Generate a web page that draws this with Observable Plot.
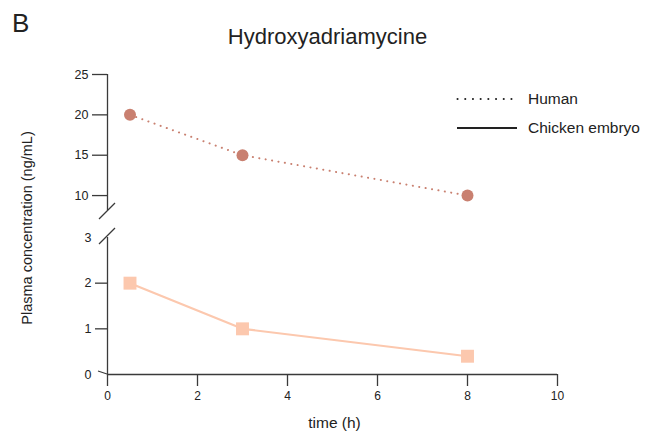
<!DOCTYPE html>
<html>
<head>
<meta charset="utf-8">
<script src="https://cdn.jsdelivr.net/npm/d3@7"></script>
<script src="https://cdn.jsdelivr.net/npm/@observablehq/plot@0.6"></script>
<style>
  body { margin: 0; background: #fff; font-family: "Liberation Sans", Arial, sans-serif; }
  #wrap { position: relative; width: 661px; height: 439px; overflow: hidden; }
  #wrap svg.plot { position: absolute; left: 0; top: 0; }
  .panel { position: absolute; left: 12px; top: 8px; font-size: 26px; line-height: 30px; color: #222; }
  .title { position: absolute; left: 0; width: 655px; top: 24px; text-align: center; font-size: 22px; line-height: 25px; color: #222; }
  .legend { position: absolute; left: 456px; top: 85px; font-size: 15.5px; color: #222; }
  .legend div { display: flex; align-items: center; height: 28.5px; }
  .legend svg { margin-right: 10px; }
</style>
</head>
<body>
<div id="wrap">
  <div class="panel">B</div>
  <div class="title">Hydroxyadriamycine</div>
  <div class="legend">
    <div><svg width="62" height="6"><line x1="1.5" y1="3" x2="56" y2="3" stroke="#222" stroke-width="2" stroke-dasharray="0.1,7.6" stroke-linecap="round"/></svg>Human</div>
    <div><svg width="62" height="6"><line x1="1" y1="3" x2="61" y2="3" stroke="#222" stroke-width="2"/></svg>Chicken embryo</div>
  </div>
</div>
<script>
// Sampling times (h) and plasma concentrations (ng/mL)
const times = [0.5, 3, 8];
const human = [20, 15, 10];
const chickenEmbryo = [2, 1, 0.4];

// Axis ticks
const xTicks = [0, 2, 4, 6, 8, 10];
const lowTicks = [1, 2];
const lowLabels = [0, 1, 2, 3];
const highTicks = [10, 15, 20, 25];

const humanData = times.map((t, i) => ({time: t, value: human[i]}));
const chickData = times.map((t, i) => ({time: t, value: chickenEmbryo[i]}));

const axisColor = "#3a3a3a";
const humanColor = "#c98070";
const chickColor = "#fcc8ae";
const fmt = d => `${d}`;

// Broken y axis: 0–3 in the lower panel, ~8–25 in the upper one
const breakLow = 3, breakHigh = 8.15;

const common = {
  width: 661,
  height: 439,
  marginLeft: 107,
  marginRight: 104,
  style: {fontFamily: "'Liberation Sans', Arial, sans-serif", fontSize: "12px", color: "#222", background: "transparent", overflow: "visible"}
};

// Upper panel: human plasma levels
const upper = Plot.plot({
  ...common,
  marginTop: 74,
  marginBottom: 229,
  x: {domain: [0, 10], axis: null},
  y: {domain: [breakHigh, 25]},
  marks: [
    Plot.ruleX([0], {y1: breakHigh, y2: 25, stroke: axisColor, strokeWidth: 1.3}),
    Plot.axisY({ticks: highTicks, tickSize: 15, tickPadding: 4, tickFormat: fmt, stroke: axisColor, strokeWidth: 1.3, label: null, fontSize: 12.5}),
    Plot.line(humanData, {x: "time", y: "value", stroke: humanColor, strokeWidth: 2, strokeDasharray: "0.1,6.4", strokeLinecap: "round"}),
    Plot.dot(humanData, {x: "time", y: "value", r: 6, fill: humanColor})
  ]
});

// Lower panel: chicken embryo plasma levels, x axis and axis titles
const lower = Plot.plot({
  ...common,
  marginTop: 237,
  marginBottom: 65,
  x: {domain: [0, 10]},
  y: {domain: [0, breakLow]},
  marks: [
    Plot.ruleX([0], {y1: 0, y2: breakLow, stroke: axisColor, strokeWidth: 1.3}),
    Plot.ruleY([0], {x1: 0, x2: 10, stroke: axisColor, strokeWidth: 1.3}),
    Plot.axisY({ticks: lowTicks, tickSize: 12, tickFormat: () => "", stroke: axisColor, strokeWidth: 1.3, label: null}),
    Plot.axisY({ticks: lowLabels, tickSize: 0, tickPadding: 16, tickFormat: fmt, fontSize: 12.5, label: null}),
    Plot.axisX({ticks: xTicks, tickSize: 12, tickPadding: 5, tickFormat: fmt, stroke: axisColor, strokeWidth: 1.3, label: null, fontSize: 12}),
    Plot.text(["time (h)"], {frameAnchor: "bottom", lineAnchor: "middle", dy: 49, dx: 2, fontSize: 15.5}),
    Plot.text(["Plasma concentration (ng/mL)"], {frameAnchor: "left", textAnchor: "middle", lineAnchor: "middle", rotate: -90, dx: -80, dy: -78, fontSize: 14.5}),
    Plot.line(chickData, {x: "time", y: "value", stroke: chickColor, strokeWidth: 2.2}),
    Plot.dot(chickData, {x: "time", y: "value", symbol: "square", r: 7.3, fill: chickColor})
  ]
});

const wrap = document.getElementById("wrap");
for (const p of [lower, upper]) { p.classList.add("plot"); wrap.prepend(p); }

// Break marks on the y axis and the slanted zero tick
function slash(p, v, off) {
  const x0 = p.scale("x").apply(0), yy = p.scale("y").apply(v) + off;
  d3.select(p).append("line").attr("stroke", axisColor).attr("stroke-width", 1.3)
    .attr("x1", x0 - 8).attr("y1", yy + 8).attr("x2", x0 + 8).attr("y2", yy - 8);
}
slash(lower, breakLow, -1);
{
  const x0 = lower.scale("x").apply(0), y0 = lower.scale("y").apply(0);
  d3.select(lower).append("line").attr("stroke", axisColor).attr("stroke-width", 1.3)
    .attr("x1", x0 - 9).attr("y1", y0 - 3).attr("x2", x0).attr("y2", y0);
}
// the upper scale has no x; reuse the lower x position for its break mark
{
  const x0 = lower.scale("x").apply(0), yy = upper.scale("y").apply(breakHigh) + 1;
  d3.select(upper).append("line").attr("stroke", axisColor).attr("stroke-width", 1.3)
    .attr("x1", x0 - 8).attr("y1", yy + 8).attr("x2", x0 + 8).attr("y2", yy - 8);
}
</script>
</body>
</html>
